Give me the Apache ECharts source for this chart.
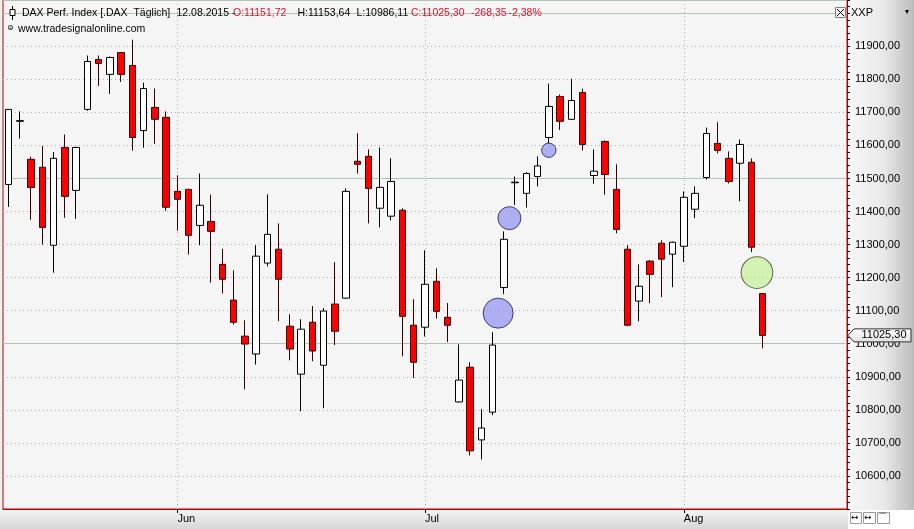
<!DOCTYPE html>
<html><head><meta charset="utf-8">
<script src="https://cdn.jsdelivr.net/npm/echarts@6/dist/echarts.min.js"></script>
<style>html,body{margin:0;padding:0;background:#f0f0f0;overflow:hidden}#c{width:914px;height:529px}</style>
</head><body><div id="c"></div>
<script>
// ---------- data ----------
const dates = [
'2015-05-08','2015-05-11','2015-05-12','2015-05-13','2015-05-14','2015-05-15',
'2015-05-18','2015-05-19','2015-05-20','2015-05-21','2015-05-22',
'2015-05-26','2015-05-27','2015-05-28','2015-05-29',
'2015-06-01','2015-06-02','2015-06-03','2015-06-04','2015-06-05',
'2015-06-08','2015-06-09','2015-06-10','2015-06-11','2015-06-12',
'2015-06-15','2015-06-16','2015-06-17','2015-06-18','2015-06-19',
'2015-06-22','2015-06-23','2015-06-24','2015-06-25','2015-06-26',
'2015-06-29','2015-06-30',
'2015-07-01','2015-07-02','2015-07-03',
'2015-07-06','2015-07-07','2015-07-08','2015-07-09','2015-07-10',
'2015-07-13','2015-07-14','2015-07-15','2015-07-16','2015-07-17',
'2015-07-20','2015-07-21','2015-07-22','2015-07-23','2015-07-24',
'2015-07-27','2015-07-28','2015-07-29','2015-07-30','2015-07-31',
'2015-08-03','2015-08-04','2015-08-05','2015-08-06','2015-08-07',
'2015-08-10','2015-08-11','2015-08-12',
'2015-08-13','2015-08-14','2015-08-17','2015-08-18','2015-08-19','2015-08-20','2015-08-21'
];
const opens = [11482,11673,11558,11534,11298,11594,11464,11709,11860,11815,11881,11842,11645,11715,11685,
11461,11467,11358,11370,11240,11132,11023,10969,11244,11286,11053,10908,11065,10935,11120,11138,11552,11567,11410,11386,11404,11056,
11050,11189,11080,10824,10929,10709,10793,11170,11487,11455,11506,11624,11748,11679,11760,11509,11612,11467,11286,11129,11250,11304,11271,
11295,11407,11503,11606,11561,11546,11549,11151.72];
const closes = [11709,11675,11473,11352,11561,11446,11594,11854,11848,11866,11815,11624,11772,11679,11413,
11437,11328,11419,11340,11195,11065,10999,11265,11331,11195,10984,11044,10978,11099,11038,11461,11543,11470,11473,11491,11083,10944,
11180,11098,11056,10890,10676,10745,10996,11316,11489,11515,11538,11718,11673,11736,11603,11522,11512,11346,11056,11174,11210,11256,11307,
11443,11455,11636,11585,11491,11603,11292,11025.30];
const lows = [11414,11621,11375,11300,11215,11381,11378,11705,11780,11756,11792,11584,11593,11605,11402,
11342,11270,11298,11185,11152,11058,10862,10937,11234,11068,10950,10796,10947,10805,10996,11136,11515,11364,11352,11373,10962,10896,
11022,11076,11005,10822,10662,10650,10784,11150,11420,11412,11476,11604,11647,11677,11585,11484,11451,11334,11053,11068,11123,11141,11171,
11247,11380,11497,11576,11485,11431,11277,10986.11];
const highs = [11709,11703,11566,11598,11580,11633,11596,11872,11872,11869,11883,11920,11790,11772,11703,
11510,11469,11515,11451,11287,11222,11071,11298,11452,11364,11089,11074,11114,11108,11247,11470,11637,11588,11594,11561,11410,11135,
11283,11228,11123,10998,10944,10802,11035,11340,11506,11519,11567,11787,11754,11802,11772,11588,11615,11543,11298,11240,11253,11313,11309,
11461,11476,11654,11670,11582,11618,11561,11153.64];
const monthLabels = {'2015-06-01':'Jun','2015-07-01':'Jul','2015-08-03':'Aug'};
const yTickValues = [10600,10700,10800,10900,11000,11100,11200,11300,11400,11500,11600,11700,11800,11900];
// gap markers: position (category slot), gap bottom, gap top, kind
const gapX    = [43.5, 44.5, 48, 66.5];
const gapLow  = [11035, 11340, 11567, 11153.64];
const gapHigh = [11150, 11420, 11604, 11277];
const gapKind = ['up','up','up','down'];
const lastClose = 11025.30;
const headerTitle = 'DAX Perf. Index [.DAX  Täglich]';
const headerDate = '12.08.2015 -';
const headerO = 'O:11151,72';
const headerH = 'H:11153,64';
const headerL = 'L:10986,11';
const headerC = 'C:11025,30';
const headerChg = '-268,35';
const headerPct = '-2,38%';
const sourceText = 'www.tradesignalonline.com';
const axisName = 'XXP';

// ---------- chart ----------
const FONT = '"Liberation Sans", Arial, sans-serif';
const RED = '#e0102a';
const fmtNum = v => v.toFixed(2).replace('.', ',');
const isMonth = (i, v) => Object.prototype.hasOwnProperty.call(monthLabels, v);

const ohlc = opens.map((o, i) => [o, closes[i], lows[i], highs[i]]);
const gaps = gapX.map((x, i) => ({
  value: [x, (gapLow[i] + gapHigh[i]) / 2],
  symbolSize: 7 + 0.2 * (gapHigh[i] - gapLow[i]),
  itemStyle: gapKind[i] === 'up'
    ? {color: '#9c9cf2', borderColor: '#1a1a50', borderWidth: 1}
    : {color: '#ccf0a4', borderColor: '#2e4a1e', borderWidth: 1}
}));

const chart = echarts.init(document.getElementById('c'), null, {renderer: 'canvas'});
const option = {
  animation: false,
  backgroundColor: '#f0f0f0',
  grid: {left: 3, right: 67, top: 0, bottom: 20, show: true, backgroundColor: '#f5f5f5',
         borderColor: '#c00000', borderWidth: 1},
  xAxis: [{
    type: 'category', data: dates, boundaryGap: true,
    axisLine: {show: true, onZero: false, lineStyle: {color: '#c00000'}},
    axisTick: {show: true, alignWithLabel: true, interval: isMonth, length: 4, lineStyle: {color: '#000'}},
    axisLabel: {interval: isMonth, formatter: v => monthLabels[v] || '', align: 'left', margin: 4,
                fontSize: 11, fontFamily: FONT, color: '#000'},
    splitLine: {show: true, alignWithLabel: true, interval: isMonth, lineStyle: {color: '#b0b0b0', type: [1, 3]}}
  }, {
    type: 'value', min: -0.5, max: dates.length - 0.5, show: false,
    axisLine: {onZero: false}
  }],
  yAxis: [{
    type: 'value', position: 'right', min: 10500, max: 12040, interval: 100,
    axisLine: {show: true, onZero: false, lineStyle: {color: '#c00000'}},
    axisTick: {show: true, length: 3, lineStyle: {color: '#000'}},
    minorTick: {show: true, splitNumber: 5, length: 3, lineStyle: {color: '#000'}},
    axisLabel: {margin: 8, fontSize: 11, fontFamily: FONT, color: '#000',
                formatter: v => yTickValues.indexOf(v) >= 0 ? fmtNum(v) : ''},
    splitLine: {show: true, lineStyle: {color: '#b0b0b0', type: [1, 3]}}
  }, {
    type: 'value', position: 'right', min: 10500, max: 12040, interval: 500,
    axisLine: {show: false, onZero: false}, axisTick: {show: false}, axisLabel: {show: false},
    minorTick: {show: false},
    splitLine: {show: true, lineStyle: {color: '#b4c4b4', width: 1}}
  }],
  series: [{
    type: 'candlestick', xAxisIndex: 0, yAxisIndex: 0, data: ohlc, barWidth: 7,
    itemStyle: {color: '#ffffff', color0: '#ff0000', borderColor: '#000000', borderColor0: '#3a0000',
                borderColorDoji: '#000000', borderWidth: 1}
  }, {
    type: 'scatter', xAxisIndex: 1, yAxisIndex: 0, symbol: 'circle', data: gaps, z: 3
  }]
};
chart.setOption(option);

// annotations placed through the library's scales
const yTag = chart.convertToPixel({yAxisIndex: 0}, lastClose);
const xR = chart.convertToPixel({xAxisIndex: 1}, dates.length - 0.5);
const W = 914, H = 529;
const yBottom = chart.convertToPixel({yAxisIndex: 0}, 10500);
const HF = '10.5px ' + FONT;
const NF = '11px ' + FONT;
const txt = (x, y, s, color, font) => ({
  type: 'text', x: x, y: y, z: 100,
  style: {text: s, fill: color || '#000', font: font || HF, textVerticalAlign: 'middle'}
});

chart.setOption({graphic: [
  // right axis panel
  {type: 'rect', z: -10, shape: {x: xR + 1, y: 0, width: W - xR - 1, height: yBottom + 1},
   style: {fill: new echarts.graphic.LinearGradient(0, 0, 1, 0, [
     {offset: 0, color: '#f8f8f8'}, {offset: 0.55, color: '#e8e8e8'}, {offset: 1, color: '#bcbcbc'}])}},
  // bottom axis panel
  {type: 'rect', z: -10, shape: {x: 0, y: yBottom + 1, width: xR + 1, height: H - yBottom - 1},
   style: {fill: new echarts.graphic.LinearGradient(0, 0, 0, 1, [
     {offset: 0, color: '#f4f4f4'}, {offset: 1, color: '#d6d6d6'}])}},
  {type: 'rect', z: -9, shape: {x: xR + 1, y: yBottom + 1, width: W - xR - 1, height: H - yBottom - 1},
   style: {fill: '#ffffff'}},
  // bottom-right buttons
  {type: 'rect', z: 50, shape: {x: 850.5, y: 512.5, width: 11, height: 11}, style: {fill: '#fff', stroke: '#9a9a9a'}},
  {type: 'rect', z: 50, shape: {x: 863.5, y: 512.5, width: 12, height: 11}, style: {fill: '#fff', stroke: '#9a9a9a'}},
  {type: 'rect', z: 50, shape: {x: 877.5, y: 512.5, width: 12, height: 11}, style: {fill: '#fff', stroke: '#9a9a9a'}},
  txt(851, 518, '↔', '#000', '9px "DejaVu Sans"'),
  txt(864, 518, '↔', '#000', '9px "DejaVu Sans"'),
  txt(878, 518, '⌒', '#000', '9px "DejaVu Sans"'),
  // header icon
  {type: 'line', z: 100, shape: {x1: 12.5, y1: 6, x2: 12.5, y2: 20}, style: {stroke: '#000', lineWidth: 1}},
  {type: 'rect', z: 101, shape: {x: 10, y: 9.5, width: 5, height: 6}, style: {fill: '#fff', stroke: '#000', lineWidth: 1}},
  txt(22, 13, headerTitle),
  txt(176.5, 13, headerDate),
  txt(233, 13, headerO, RED),
  txt(297.5, 13, headerH),
  txt(356.5, 13, headerL),
  txt(411, 13, headerC, RED),
  txt(471, 13, headerChg, RED),
  txt(508.5, 13, headerPct, RED),
  txt(7, 28, '⊜', '#000', '8px "DejaVu Sans"'),
  txt(18, 29, sourceText),
  // close box
  {type: 'rect', z: 100, shape: {x: 835.5, y: 7.5, width: 10, height: 10}, style: {fill: '#f4f4f4', stroke: '#808080'}},
  {type: 'line', z: 101, shape: {x1: 837, y1: 9, x2: 844, y2: 16}, style: {stroke: '#000'}},
  {type: 'line', z: 101, shape: {x1: 844, y1: 9, x2: 837, y2: 16}, style: {stroke: '#000'}},
  txt(851, 13, axisName, '#000', NF),
  txt(905, 12, '▾', '#000', '8px "DejaVu Sans"'),
  // last price tag
  {type: 'polygon', z: 110, shape: {points: [[xR + 1, yTag], [xR + 7, yTag - 6.5], [911, yTag - 6.5], [911, yTag + 6.5], [xR + 7, yTag + 6.5]]},
   style: {fill: new echarts.graphic.LinearGradient(0, 0, 0, 1, [{offset: 0, color: '#ffffff'}, {offset: 1, color: '#e0e0e0'}]),
           stroke: '#303030', lineWidth: 1}},
  {type: 'text', x: 884, y: yTag, z: 111,
   style: {text: fmtNum(lastClose), fill: '#000', font: NF, textAlign: 'center', textVerticalAlign: 'middle'}}
]});
</script>
</body></html>
